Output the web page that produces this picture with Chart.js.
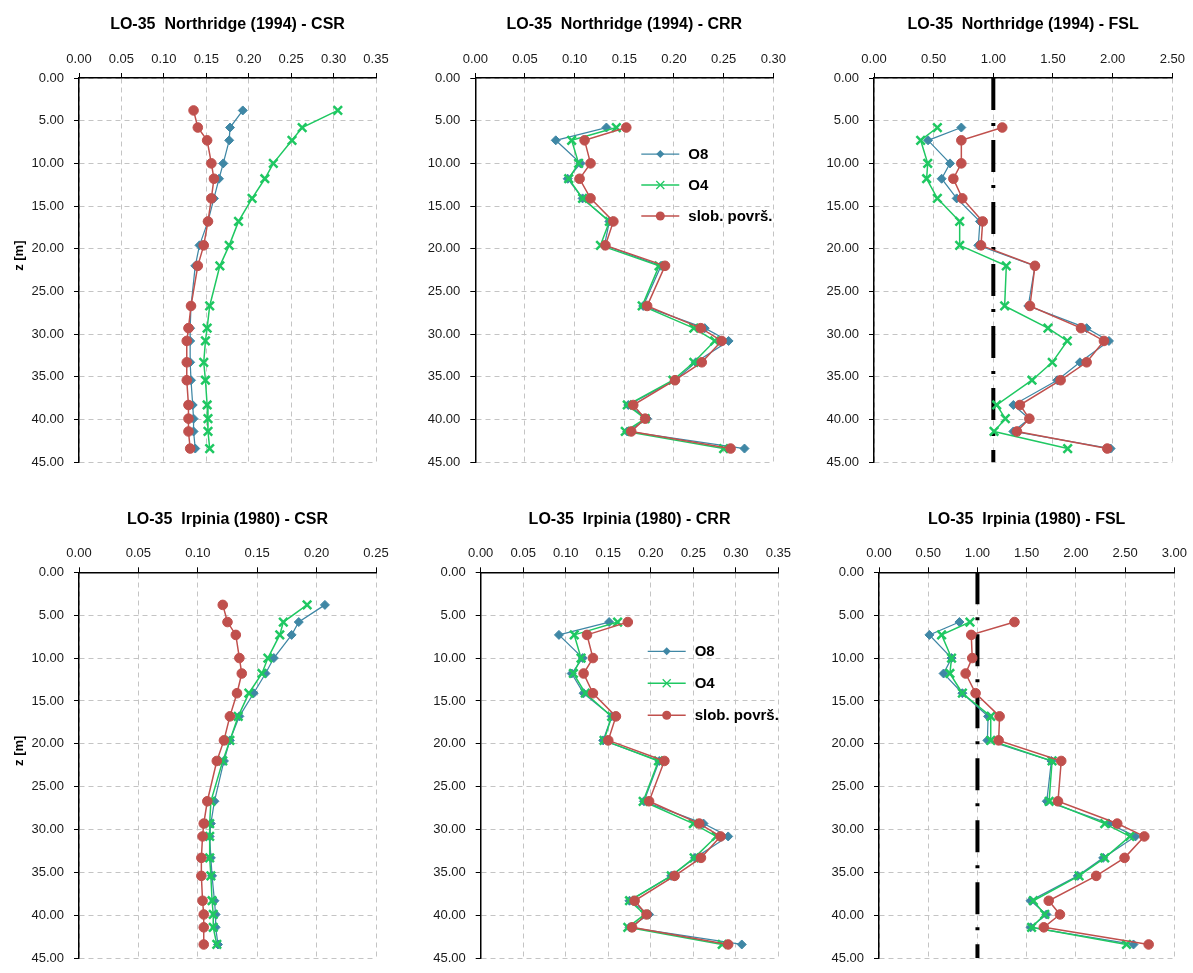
<!DOCTYPE html>
<html>
<head>
<meta charset="utf-8">
<script src="https://cdn.jsdelivr.net/npm/chart.js@4.4.1/dist/chart.umd.min.js"></script>
<style>
    html, body { margin: 0; padding: 0; background: #fff; overflow: hidden; }
    canvas { position: absolute; }
</style>
</head>
<body>
<canvas id="c1"></canvas>
<canvas id="c2"></canvas>
<canvas id="c3"></canvas>
<canvas id="c4"></canvas>
<canvas id="c5"></canvas>
<canvas id="c6"></canvas>
<script>
// depths [m]
const depthCSR = [3.8, 5.8, 7.3, 10.0, 11.8, 14.1, 16.8, 19.6, 22.0, 26.7, 29.3, 30.8, 33.3, 35.4, 38.3, 39.9, 41.4, 43.4];
const depthLiq = [5.8, 7.3, 10.0, 11.8, 14.1, 16.8, 19.6, 22.0, 26.7, 29.3, 30.8, 33.3, 35.4, 38.3, 39.9, 41.4, 43.4];

// Northridge (1994)
const csrN_O8 = [0.193, 0.178, 0.177, 0.170, 0.165, 0.159, 0.152, 0.142, 0.137, 0.132, 0.131, 0.131, 0.131, 0.132, 0.134, 0.135, 0.135, 0.137];
const csrN_O4 = [0.305, 0.263, 0.251, 0.229, 0.219, 0.204, 0.188, 0.177, 0.166, 0.154, 0.151, 0.149, 0.147, 0.149, 0.151, 0.152, 0.152, 0.154];
const csrN_SP = [0.135, 0.140, 0.151, 0.156, 0.159, 0.156, 0.152, 0.147, 0.140, 0.132, 0.129, 0.127, 0.127, 0.127, 0.129, 0.129, 0.129, 0.131];

const crrN_O8 = [0.132, 0.081, 0.106, 0.093, 0.108, 0.135, 0.130, 0.187, 0.169, 0.231, 0.255, 0.222, 0.201, 0.154, 0.173, 0.153, 0.271];
const crrN_O4 = [0.142, 0.097, 0.104, 0.094, 0.108, 0.135, 0.126, 0.185, 0.168, 0.220, 0.241, 0.220, 0.199, 0.153, 0.171, 0.151, 0.250];
const crrN_SP = [0.152, 0.110, 0.116, 0.105, 0.116, 0.139, 0.131, 0.191, 0.173, 0.227, 0.248, 0.228, 0.201, 0.159, 0.171, 0.157, 0.257];

const fslN_O8 = [0.732, 0.453, 0.637, 0.567, 0.693, 0.888, 0.874, 1.349, 1.293, 1.782, 1.969, 1.726, 1.536, 1.168, 1.302, 1.168, 1.983];
const fslN_O4 = [0.531, 0.391, 0.450, 0.441, 0.531, 0.718, 0.718, 1.109, 1.095, 1.458, 1.620, 1.494, 1.324, 1.028, 1.101, 1.006, 1.623];
const fslN_SP = [1.075, 0.732, 0.732, 0.665, 0.740, 0.911, 0.897, 1.349, 1.307, 1.735, 1.927, 1.782, 1.564, 1.223, 1.302, 1.198, 1.955];

// Irpinia (1980)
const csrI_O8 = [0.207, 0.185, 0.179, 0.164, 0.157, 0.147, 0.135, 0.127, 0.122, 0.114, 0.111, 0.110, 0.111, 0.112, 0.114, 0.115, 0.115, 0.117];
const csrI_O4 = [0.192, 0.172, 0.169, 0.159, 0.154, 0.143, 0.134, 0.127, 0.121, 0.111, 0.110, 0.110, 0.110, 0.111, 0.112, 0.113, 0.113, 0.116];
const csrI_SP = [0.121, 0.125, 0.132, 0.135, 0.137, 0.133, 0.127, 0.122, 0.116, 0.108, 0.105, 0.104, 0.103, 0.103, 0.104, 0.105, 0.105, 0.105];

const crrI_O8 = [0.151, 0.092, 0.120, 0.107, 0.121, 0.154, 0.144, 0.210, 0.192, 0.262, 0.291, 0.252, 0.224, 0.175, 0.198, 0.175, 0.307];
const crrI_O4 = [0.161, 0.110, 0.118, 0.109, 0.123, 0.154, 0.145, 0.209, 0.191, 0.250, 0.277, 0.251, 0.224, 0.175, 0.193, 0.173, 0.284];
const crrI_SP = [0.173, 0.125, 0.132, 0.121, 0.132, 0.159, 0.150, 0.216, 0.198, 0.257, 0.282, 0.259, 0.228, 0.181, 0.195, 0.178, 0.291];

const fslI_O8 = [0.817, 0.512, 0.737, 0.656, 0.847, 1.108, 1.101, 1.751, 1.704, 2.337, 2.605, 2.277, 2.019, 1.540, 1.701, 1.540, 2.585];
const fslI_O4 = [0.924, 0.636, 0.737, 0.720, 0.847, 1.135, 1.135, 1.758, 1.728, 2.293, 2.548, 2.293, 2.032, 1.567, 1.684, 1.550, 2.514];
const fslI_SP = [1.376, 0.937, 0.947, 0.880, 0.981, 1.225, 1.215, 1.851, 1.818, 2.420, 2.695, 2.494, 2.206, 1.724, 1.838, 1.674, 2.739];

// FS = 1 limit line
const limitFS = [1, 1];
const limitDepth = [0, 45];

const seriesNames = ['O8', 'O4', 'slob. površ.'];

const FONT = "'Liberation Sans', Arial, sans-serif";

const pts = (xs, ys) => xs.map((v, i) => ({ x: v, y: ys[i] }));

const styles = [
    { borderColor: '#3F87A5', backgroundColor: '#3F87A5', pointStyle: 'rectRot', pointRadius: 4.5, pointBorderWidth: 1, borderWidth: 1.25, order: 3 },
    { borderColor: '#1FC862', backgroundColor: '#1FC862', pointStyle: 'crossRot', pointRadius: 6, pointBorderWidth: 2.5, borderWidth: 1.5, order: 2 },
    { borderColor: '#C0504D', backgroundColor: '#C0504D', pointStyle: 'circle', pointRadius: 4.8, pointBorderWidth: 1, borderWidth: 1.5, order: 1 }
];

function makeSets(depth, lists, limit) {
    const sets = lists.map((vals, i) => Object.assign({
        label: seriesNames[i],
        data: pts(vals, depth),
        showLine: true,
        fill: false
    }, styles[i]));
    if (limit) {
        sets.push({
            label: 'FS=1',
            data: pts(limitFS, limitDepth),
            showLine: true,
            borderColor: '#000',
            borderWidth: 4,
            borderDash: [32, 13, 3, 14],
            borderCapStyle: 'butt',
            pointRadius: 0,
            order: 4
        });
    }
    return sets;
}

// legend drawn inside the plot area (CRR panels)
function inlineLegend(o) {
    return {
        id: 'inlineLegend',
        afterDatasetsDraw(chart) {
            const ctx = chart.ctx, a = chart.chartArea;
            chart.data.datasets.slice(0, 3).forEach((ds, i) => {
                const x0 = a.left + o.dx, y = a.top + o.dy + i * o.gap;
                ctx.save();
                ctx.strokeStyle = ds.borderColor;
                ctx.fillStyle = ds.backgroundColor;
                ctx.lineWidth = ds.borderWidth;
                ctx.beginPath();
                ctx.moveTo(x0, y);
                ctx.lineTo(x0 + 38, y);
                ctx.stroke();
                const cx = x0 + 19;
                ctx.beginPath();
                if (ds.pointStyle === 'circle') {
                    ctx.arc(cx, y, 4.5, 0, Math.PI * 2);
                    ctx.fill();
                } else if (ds.pointStyle === 'rectRot') {
                    ctx.moveTo(cx, y - 4); ctx.lineTo(cx + 4, y); ctx.lineTo(cx, y + 4); ctx.lineTo(cx - 4, y);
                    ctx.closePath();
                    ctx.fill();
                } else {
                    ctx.lineWidth = 1.25;
                    ctx.moveTo(cx - 4, y - 4); ctx.lineTo(cx + 4, y + 4);
                    ctx.moveTo(cx + 4, y - 4); ctx.lineTo(cx - 4, y + 4);
                    ctx.stroke();
                }
                ctx.fillStyle = '#000';
                ctx.font = 'bold 15px ' + FONT;
                ctx.textBaseline = 'middle';
                ctx.fillText(ds.label, x0 + 47, y + 1);
                ctx.restore();
            });
        }
    };
}

const panels = [
    { id: 'c1', left: 0,   top: 0,   w: 398, h: 480, yw: 79,   padR: 22,   titleTop: 15, xh: 39.8, xmax: 0.35, xstep: 0.05, title: 'LO-35  Northridge (1994) - CSR', zlabel: true,  depth: depthCSR, lists: [csrN_O8, csrN_O4, csrN_SP] },
    { id: 'c2', left: 398, top: 0,   w: 399, h: 480, yw: 77.3, padR: 23.7, titleTop: 15, xh: 39.8, xmax: 0.30, xstep: 0.05, title: 'LO-35  Northridge (1994) - CRR', zlabel: false, depth: depthLiq, lists: [crrN_O8, crrN_O4, crrN_SP], legend: { dx: 166, dy: 76, gap: 31 } },
    { id: 'c3', left: 797, top: 0,   w: 396, h: 480, yw: 77,   padR: 20.7, titleTop: 15, xh: 39.8, xmax: 2.50, xstep: 0.5,  title: 'LO-35  Northridge (1994) - FSL', zlabel: false, depth: depthLiq, lists: [fslN_O8, fslN_O4, fslN_SP], limit: true },
    { id: 'c4', left: 0,   top: 490, w: 398, h: 486, yw: 79,   padR: 22,   titleTop: 20, xh: 39.1, xmax: 0.25, xstep: 0.05, title: 'LO-35  Irpinia (1980) - CSR', zlabel: true,  depth: depthCSR, lists: [csrI_O8, csrI_O4, csrI_SP] },
    { id: 'c5', left: 398, top: 490, w: 399, h: 486, yw: 82.7, padR: 17.7, titleTop: 20, xh: 39.1, xmax: 0.35, xstep: 0.05, title: 'LO-35  Irpinia (1980) - CRR', zlabel: false, depth: depthLiq, lists: [crrI_O8, crrI_O4, crrI_SP], legend: { dx: 167, dy: 79, gap: 32 } },
    { id: 'c6', left: 797, top: 490, w: 396, h: 486, yw: 82,   padR: 15.3, titleTop: 20, xh: 39.1, xmax: 3.00, xstep: 0.5,  title: 'LO-35  Irpinia (1980) - FSL', zlabel: false, depth: depthLiq, lists: [fslI_O8, fslI_O4, fslI_SP], limit: true }
];

const tickFont = { family: FONT, size: 13 };
const gridOpts = { color: '#c4c4c4', lineWidth: 1, tickLength: 5, tickColor: '#000', tickWidth: 1, tickBorderDash: [] };
const borderOpts = { display: true, color: '#000', width: 1.5, dash: [5, 4] };

panels.forEach(p => {
    const canvas = document.getElementById(p.id);
    canvas.width = p.w;
    canvas.height = p.h;
    canvas.style.left = p.left + 'px';
    canvas.style.top = p.top + 'px';
    canvas.style.width = p.w + 'px';
    canvas.style.height = p.h + 'px';

    new Chart(canvas, {
        type: 'scatter',
        data: { datasets: makeSets(p.depth, p.lists, p.limit) },
        options: {
            responsive: false,
            animation: false,
            layout: { padding: { left: 0, right: p.padR, top: 0, bottom: 8 } },
            plugins: {
                legend: { display: false },
                tooltip: { enabled: false },
                title: {
                    display: true,
                    fullSize: false,
                    text: p.title,
                    color: '#000',
                    font: { family: FONT, size: 16, weight: 'bold' },
                    padding: { top: p.titleTop, bottom: 4 }
                }
            },
            scales: {
                x: {
                    type: 'linear',
                    position: 'top',
                    min: 0,
                    max: p.xmax,
                    ticks: { stepSize: p.xstep, callback: v => v.toFixed(2), font: tickFont, color: '#1a1a1a', padding: 6, maxRotation: 0 },
                    grid: gridOpts,
                    border: borderOpts,
                    afterFit: s => { s.height = p.xh; }
                },
                y: {
                    type: 'linear',
                    reverse: true,
                    min: 0,
                    max: 45,
                    ticks: { stepSize: 5, callback: v => v.toFixed(2), font: tickFont, color: '#1a1a1a', padding: 10 },
                    title: {
                        display: p.zlabel,
                        // leading spaces lift the label a little above the axis centre, as in the original
                        text: '        z [m]',
                        color: '#000',
                        font: { family: FONT, size: 13, weight: 'bold' },
                        padding: { top: 12, bottom: 0 }
                    },
                    grid: gridOpts,
                    border: borderOpts,
                    afterFit: s => { s.width = p.yw; }
                }
            }
        },
        plugins: p.legend ? [inlineLegend(p.legend)] : []
    });
});
</script>
</body>
</html>
